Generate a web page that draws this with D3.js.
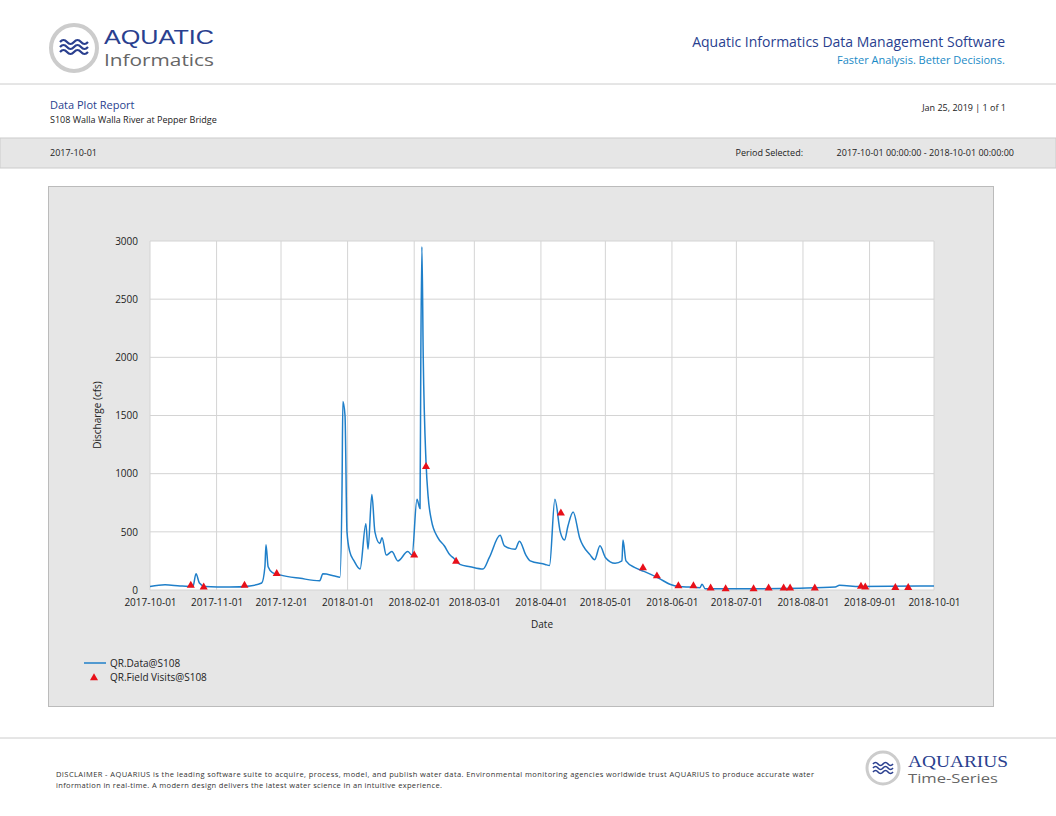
<!DOCTYPE html>
<html><head><meta charset="utf-8">
<script src="https://cdn.jsdelivr.net/npm/d3@7"></script>
<style>body{margin:0;background:#fff;font-family:"Open Sans",Calibri,sans-serif}</style>
</head><body><svg id="c" width="1056" height="816"></svg>
<script>
// Day offsets since 2017-10-01 and discharge (cfs)
const flowDays = [0,7,14,20,21.4,23,25.6,37,46.5,52,53.5,54,55,57,60.5,70,79,80.5,86,88.4,89.4,89.8,90.8,91.7,93,95,97.8,100.5,101.5,103.3,104.7,107,108,110,112.6,115.4,120,122,124.3,125.7,126.1,126.6,127.2,128.5,129.5,131,134,137,139.7,141,144.3,149,155,158,163,165,170,172,175,177,184,186,188.5,191,193,194.6,197,200,205,207,209.5,212,216.5,219.7,220.2,221.6,226,230,237,242,246.6,251,256,257,258.5,279,302.6,319,321,330.5,365];
const flowValues = [30,45,35,30,140,60,30,25,35,60,200,390,200,150,130,100,80,140,120,110,900,1620,1500,500,330,250,180,570,350,820,500,400,450,300,330,250,330,300,780,700,2000,2950,2000,1100,800,600,450,380,300,280,220,200,180,280,470,380,350,420,300,250,220,210,780,500,430,550,670,450,300,260,380,280,230,250,430,250,190,160,100,50,30,25,20,50,10,10,15,25,40,30,35];
const visitDays = [19,25,44,59,123,128.5,142.5,191.3,229.5,236,246,253,261,268,281,288,295,298,309.5,331,333,347,353];
const visitValues = [40,25,40,140,300,1060,245,660,190,120,35,35,15,10,10,15,15,15,15,30,25,20,20];
const yTicks = [0,500,1000,1500,2000,2500,3000];

const svg = d3.select("#c");
const start = new Date(2017,9,1), end = new Date(2018,9,1);
const day = d => d3.timeHour.offset(start, Math.round(d*24));
const f = "'Open Sans',sans-serif";
const t = (x,y,s,size,col,anchor) => svg.append("text").attr("x",x).attr("y",y).text(s)
  .attr("font-size",size).attr("fill",col||"#222").attr("text-anchor",anchor||"start").attr("font-family",f);

// Header
const lg = svg.append("g");
lg.append("circle").attr("cx",74).attr("cy",48).attr("r",23).attr("fill","#fff").attr("stroke","#ccc").attr("stroke-width",4);
[0,1,2].forEach(i=>lg.append("path").attr("d",`M60 ${42+i*5} q3.5 -4 7 0 t7 0 t7 0 t7 0`).attr("fill","none").attr("stroke","#2a3f8f").attr("stroke-width",2.2));
t(104,44,"AQUATIC",20,"#2a3f8f").attr("font-family","'Liberation Sans Narrow','Liberation Sans',sans-serif").attr("textLength",110).attr("lengthAdjust","spacingAndGlyphs");
t(104,66,"Informatics",17,"#666").attr("textLength",110).attr("lengthAdjust","spacingAndGlyphs");
t(1005,47,"Aquatic Informatics Data Management Software",14,"#2a3f8f","end");
t(1005,64,"Faster Analysis. Better Decisions.",11,"#1a8ac6","end");
svg.append("line").attr("x1",0).attr("x2",1056).attr("y1",84).attr("y2",84).attr("stroke","#ccc");
t(50,109,"Data Plot Report",11,"#2a3f8f");
t(50,123,"S108 Walla Walla River at Pepper Bridge",9,"#222");
t(1006,111,"Jan 25, 2019 | 1 of 1",9,"#222","end");
svg.append("rect").attr("x",0).attr("y",138).attr("width",1056).attr("height",30).attr("fill","#e6e6e6").attr("stroke","#ccc");
t(50,156,"2017-10-01",9,"#222");
t(803,156,"Period Selected:",9,"#222","end");
t(1014,156,"2017-10-01 00:00:00 - 2018-10-01 00:00:00",9,"#222","end");

// Chart panel
svg.append("rect").attr("x",48.5).attr("y",186.5).attr("width",945).attr("height",520).attr("fill","#e6e6e6").attr("stroke","#bbb");
const x = d3.scaleTime().domain([start,end]).range([150,934]);
const y = d3.scaleLinear().domain([0,3000]).range([590,241]);
svg.append("rect").attr("x",150).attr("y",241).attr("width",784).attr("height",349).attr("fill","#fff");
const months = d3.timeMonth.range(start, d3.timeDay.offset(end,1));
svg.append("g").selectAll("line").data(months).join("line").attr("x1",d=>x(d)).attr("x2",d=>x(d))
  .attr("y1",241).attr("y2",590).attr("stroke","#d4d4d4");
svg.append("g").selectAll("line").data(yTicks).join("line").attr("x1",150).attr("x2",934)
  .attr("y1",d=>y(d)).attr("y2",d=>y(d)).attr("stroke","#d4d4d4");
const ax = svg.append("g").attr("transform","translate(0,590)").call(d3.axisBottom(x).tickValues(months).tickFormat(d3.timeFormat("%Y-%m-%d")).tickSize(0).tickPadding(9));
const ay = svg.append("g").attr("transform","translate(150,0)").call(d3.axisLeft(y).tickValues(yTicks).tickFormat(d3.format("d")).tickSize(0).tickPadding(12));
[ax,ay].forEach(a=>{a.select(".domain").remove();a.selectAll("text").attr("font-size",10).attr("fill","#222").attr("font-family",f);});
t(542,628,"Date",10,"#222","middle");
svg.append("text").attr("transform","translate(101,415) rotate(-90)").attr("text-anchor","middle").attr("font-size",10).attr("font-family",f).attr("fill","#222").text("Discharge (cfs)");

const pts = flowDays.map((d,i)=>[day(d),flowValues[i]]);
svg.append("path").datum(pts).attr("d",d3.line().curve(d3.curveMonotoneX).x(d=>x(d[0])).y(d=>y(d[1])))
  .attr("fill","none").attr("stroke","#1f7fc9").attr("stroke-width",1.5);
const tri = d3.symbol().type(d3.symbolTriangle).size(28);
svg.append("g").selectAll("path").data(visitDays.map((d,i)=>[day(d),visitValues[i]])).join("path")
  .attr("transform",d=>`translate(${x(d[0])},${y(d[1])})`).attr("d",tri).attr("fill","#e8101a");

// Legend
svg.append("line").attr("x1",84).attr("x2",106).attr("y1",663).attr("y2",663).attr("stroke","#1f7fc9").attr("stroke-width",1.5);
t(110,667,"QR.Data@S108",10,"#222");
svg.append("path").attr("transform","translate(94,678)").attr("d",tri).attr("fill","#e8101a");
t(110,681,"QR.Field Visits@S108",10,"#222");

// Footer
svg.append("line").attr("x1",0).attr("x2",1056).attr("y1",738).attr("y2",738).attr("stroke","#ccc");
t(56,777,"DISCLAIMER - AQUARIUS is the leading software suite to acquire, process, model, and publish water data. Environmental monitoring agencies worldwide trust AQUARIUS to produce accurate water",7.5,"#333").attr("textLength",758).attr("lengthAdjust","spacing");
t(56,788,"information in real-time. A modern design delivers the latest water science in an intuitive experience.",7.5,"#333").attr("textLength",386).attr("lengthAdjust","spacing");
svg.append("circle").attr("cx",883).attr("cy",768).attr("r",16).attr("fill","#fff").attr("stroke","#ccc").attr("stroke-width",3);
[0,1,2].forEach(i=>svg.append("path").attr("d",`M873 ${764+i*4} q2.5 -3 5 0 t5 0 t5 0 t5 0`).attr("fill","none").attr("stroke","#2a3f8f").attr("stroke-width",1.6));
t(908,767,"AQUARIUS",17,"#2a3f8f").attr("font-family","'Liberation Serif',serif").attr("textLength",100).attr("lengthAdjust","spacingAndGlyphs");
t(908,783,"Time-Series",13,"#666").attr("textLength",90).attr("lengthAdjust","spacingAndGlyphs");
</script></body></html>
